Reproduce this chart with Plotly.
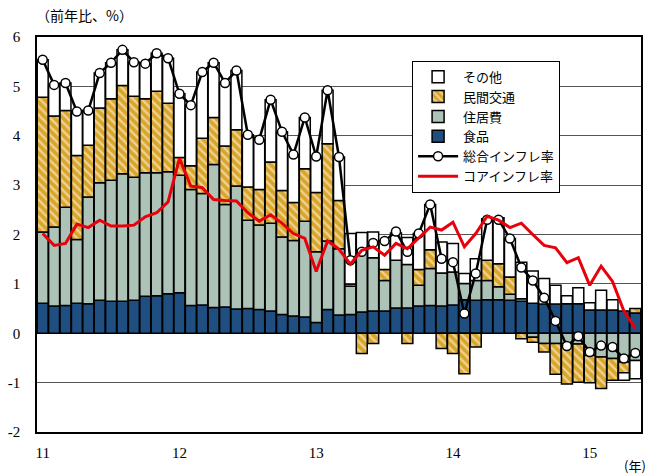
import plotly.graph_objects as go

months = list(range(53))
tick_vals = [0, 12, 24, 36, 48]
tick_text = ["11", "12", "13", "14", "15"]

food = [0.61, 0.55, 0.56, 0.61, 0.60, 0.67, 0.65, 0.65, 0.67, 0.75,
        0.76, 0.80, 0.82, 0.56, 0.57, 0.52, 0.53, 0.49, 0.50, 0.48,
        0.45, 0.38, 0.35, 0.33, 0.22, 0.48, 0.37, 0.38, 0.43, 0.45,
        0.45, 0.51, 0.51, 0.55, 0.56, 0.55, 0.57, 0.68, 0.67, 0.68,
        0.68, 0.67, 0.65, 0.61, 0.59, 0.59, 0.60, 0.60, 0.47, 0.47,
        0.47, 0.45, 0.41]
housing = [1.44, 1.60, 1.99, 1.29, 2.16, 2.38, 2.45, 2.58, 2.49, 2.50,
           2.49, 2.47, 2.38, 2.35, 2.26, 2.90, 2.08, 2.49, 1.79, 1.71,
           1.78, 1.57, 1.53, 1.94, 1.43, 1.39, 1.34, 0.57, 1.25, 1.08,
           0.62, 0.97, 0.88, 0.42, 0.75, 0.67, 0.67, 0.33, 0.40, 0.39,
           0.26, 0.12, 0.05, -0.08, -0.21, -0.21, -0.21, -0.22, -0.45, -0.48,
           -0.51, -0.58, -0.55]
transport = [2.73, 2.25, 1.96, 1.70, 1.05, 1.51, 1.65, 1.79, 1.64, 1.50,
             1.65, 1.39, 0.36, 0.48, 1.12, 0.95, 1.18, 1.14, 0.67, 0.72,
             1.24, 0.94, 0.77, 1.06, 1.20, 1.97, 0.98, 0.05, -0.41, -0.21,
             0.22, 0.00, -0.21, 0.32, 0.38, -0.31, -0.41, -0.82, -0.28, 0.41,
             0.47, 0.35, -0.11, -0.10, -0.17, -0.62, -0.82, -0.77, -0.55, -0.64,
             -0.44, -0.22, 0.09]
other = [0.76, 0.63, 0.56, 0.89, 0.70, 0.71, 0.73, 0.72, 0.69, 0.71,
         0.77, 0.91, 1.29, 1.23, 1.34, 1.11, 1.28, 1.20, 1.06, 1.01,
         1.26, 1.19, 0.97, 1.04, 0.73, 1.08, 0.88, 1.02, 0.36, 0.52,
         0.59, 0.55, 0.55, 0.73, 0.92, 0.63, 0.58, 0.20, 0.44, 0.84,
         0.93, 0.78, 0.74, 0.65, 0.52, 0.38, 0.16, 0.32, 0.15, 0.40,
         0.21, -0.15, -0.37]
total = [5.54, 5.03, 5.07, 4.49, 4.51, 5.27, 5.48, 5.74, 5.49, 5.46,
         5.67, 5.57, 4.85, 4.62, 5.29, 5.48, 5.07, 5.32, 4.02, 3.92,
         4.73, 4.08, 3.62, 4.37, 3.58, 4.92, 3.57, 1.48, 1.65, 1.83,
         1.87, 2.06, 1.65, 2.02, 2.61, 1.51, 1.44, 0.40, 1.21, 2.30,
         2.30, 1.92, 1.33, 1.07, 0.72, 0.25, -0.26, -0.06, -0.38, -0.25,
         -0.28, -0.51, -0.40]
core = [2.02, 1.78, 1.82, 2.21, 2.14, 2.29, 2.17, 2.17, 2.19, 2.36,
        2.44, 2.66, 3.54, 2.98, 2.95, 2.71, 2.69, 2.68, 2.44, 2.27,
        2.40, 2.23, 2.02, 1.92, 1.25, 1.87, 1.70, 1.40, 1.68, 1.75,
        1.58, 1.82, 1.71, 1.92, 2.15, 2.09, 2.25, 1.75, 2.02, 2.37,
        2.29, 2.14, 2.23, 2.00, 1.78, 1.73, 1.43, 1.53, 0.97, 1.36,
        1.05, 0.45, 0.10]

JP = "Noto Sans CJK JP"
SERIF = "Liberation Serif"
GOLD = "#D9A528"
outline = dict(color="black", width=1.5)

fig = go.Figure()
fig.add_trace(go.Bar(x=months, y=food, name="食品", legendrank=4,
                     marker=dict(color="#1F4E80", line=outline)))
fig.add_trace(go.Bar(x=months, y=housing, name="住居費", legendrank=3,
                     marker=dict(color="#AEC3B8", line=outline)))
fig.add_trace(go.Bar(x=months, y=transport, name="民間交通", legendrank=2,
                     marker=dict(color=GOLD, line=outline,
                                 pattern=dict(shape="\\", fgcolor="white",
                                              bgcolor=GOLD, size=6,
                                              solidity=0.4,
                                              fillmode="overlay"))))
fig.add_trace(go.Bar(x=months, y=other, name="その他", legendrank=1,
                     marker=dict(color="white", line=outline)))
fig.add_trace(go.Scatter(x=months, y=total, name="総合インフレ率", legendrank=5,
                         mode="lines+markers",
                         line=dict(color="black", width=2.5),
                         marker=dict(symbol="circle", size=9, color="white",
                                     line=dict(color="black", width=1.5))))
fig.add_trace(go.Scatter(x=months, y=core, name="コアインフレ率", legendrank=6,
                         mode="lines", line=dict(color="#E8000B", width=3)))

fig.update_layout(
    width=654, height=476,
    margin=dict(l=37, r=13, t=37, b=44, autoexpand=False),
    barmode="relative", bargap=0.04,
    plot_bgcolor="white", paper_bgcolor="white",
    showlegend=True,
    legend=dict(x=0.621, y=0.94, xanchor="left", yanchor="top",
                bgcolor="white", bordercolor="black", borderwidth=1,
                font=dict(family=JP, size=13, color="black"),
                tracegroupgap=0, itemwidth=40),
    font=dict(family=SERIF, size=15, color="black"),
)
fig.update_xaxes(range=[-0.5, 52.5], tickmode="array", tickvals=tick_vals,
                 ticktext=tick_text, showgrid=False, ticks="",
                 showline=True, linecolor="black", linewidth=1.5, mirror=True,
                 tickfont=dict(family=SERIF, size=15), ticklabelstandoff=6,
                 automargin=False)
fig.update_yaxes(range=[-2, 6], tickmode="array", tickvals=list(range(-2, 7)),
                 ticktext=[str(v) for v in range(-2, 7)],
                 showgrid=True, gridcolor="#555555", gridwidth=1,
                 zeroline=True, zerolinecolor="black", zerolinewidth=1.5,
                 showline=True, linecolor="black", linewidth=1.5, mirror=True,
                 ticks="", tickfont=dict(family=SERIF, size=15),
                 ticklabelstandoff=12, automargin=False)

fig.add_annotation(text="（前年比、%）", xref="paper", yref="paper",
                   x=-0.005, y=1.0, xanchor="left", yanchor="bottom", yshift=10,
                   showarrow=False, font=dict(family=JP, size=14, color="black"))
fig.add_annotation(text="(年)", xref="paper", yref="paper",
                   x=1.012, y=0, xanchor="right", yanchor="top", yshift=-22,
                   showarrow=False, font=dict(family=JP, size=13, color="black"))

fig.write_html("out.html", config={"displayModeBar": False},
               post_script="document.body.style.margin='0';document.body.style.padding='0';")
